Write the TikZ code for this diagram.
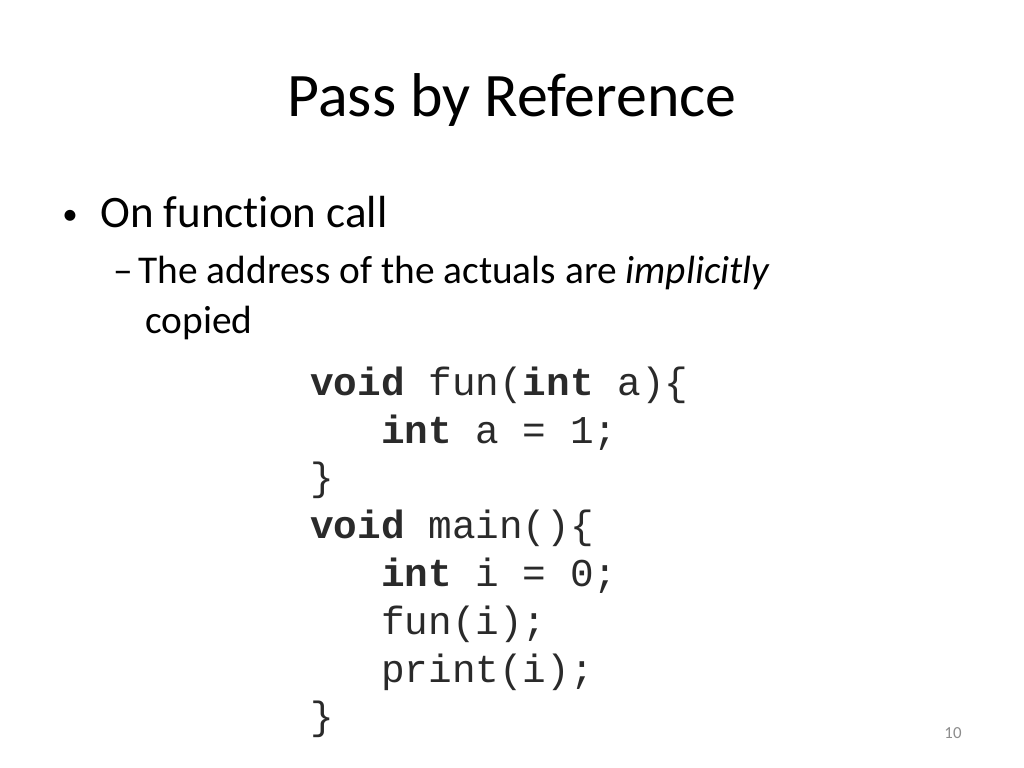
\documentclass[tikz,border=0pt]{standalone}
\usepackage{fontspec}
\setmainfont[Ligatures=NoCommon]{Carlito}
\setmonofont{Liberation Mono}
\definecolor{vgray}{HTML}{8c8c8c}
\definecolor{vcode}{HTML}{2a2a2a}
\tikzset{
  txt/.style={anchor=base west, inner sep=0pt},
  code/.style={txt, text=vcode, font=\fontsize{28}{34}\selectfont\ttfamily},
}
\begin{document}
\begin{tikzpicture}[x=0.025cm, y=-0.025cm]
		\useasboundingbox (0,0) rectangle (1024,768);
		\node[anchor=base, inner sep=0pt, font=\fontsize{44}{52}\selectfont] (title) at (512,117) {Pass by Reference};
		\node[txt, font=\fontsize{22}{26}\selectfont] (dot) at (62,224) {\textbullet};
		\node[txt, font=\fontsize{32}{38}\selectfont] (bullet) at (100,227) {On function call};
		\node[txt, font=\fontsize{28}{34}\selectfont] (sub) at (113,283) {--\hspace{4pt}The address of the actuals are \textit{implicitly}};
		\node[txt, font=\fontsize{28}{34}\selectfont] (subb) at (145,333) {copied};
		\node[code] (l1) at (310,395) {\textbf{void} fun(\textbf{int} a)\{};
		\node[code] (l2) at (310,443) {\ \ \ \textbf{int} a = 1;};
		\node[code] (l3) at (310,490) {\}};
		\node[code] (l4) at (310,538) {\textbf{void} main()\{};
		\node[code] (l5) at (310,586) {\ \ \ \textbf{int} i = 0;};
		\node[code] (l6) at (310,634) {\ \ \ fun(i);};
		\node[code] (l7) at (310,682) {\ \ \ print(i);};
		\node[code] (l8) at (310,729) {\}};
		\node[anchor=base, inner sep=0pt, text=vgray, font=\fontsize{12}{14}\selectfont] (page) at (953,738) {10};
	\end{tikzpicture}
\end{document}
